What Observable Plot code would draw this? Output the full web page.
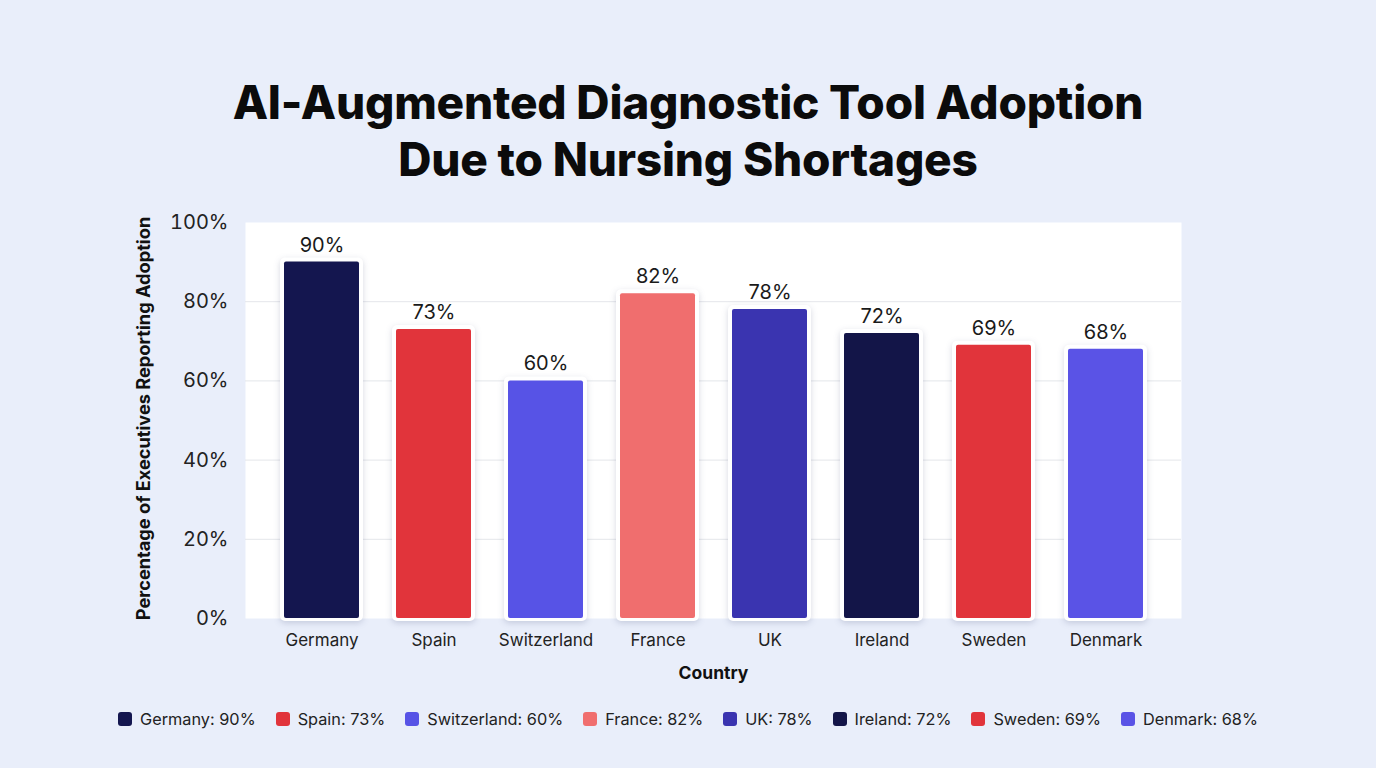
<!DOCTYPE html>
<html>
<head>
<meta charset="utf-8">
<script src="https://cdn.jsdelivr.net/npm/d3@7"></script>
<script src="https://cdn.jsdelivr.net/npm/@observablehq/plot@0.6"></script>
<style>
  html, body { margin: 0; padding: 0; }
  body {
    width: 1376px; height: 768px; overflow: hidden; position: relative;
    background: #e9eefa;
    font-family: Inter, "Noto Sans", sans-serif;
    color: #111;
  }
  #title {
    position: absolute; left: 0; top: 74px; width: 1376px;
    text-align: center; font-size: 46px; font-weight: 800; line-height: 57px;
    letter-spacing: -0.2px; color: #0b0b0b;
  }
  #chart { position: absolute; left: 0; top: 200px; }
  #legend {
    position: absolute; left: 0; top: 707px; width: 1376px;
    display: flex; justify-content: center; gap: 20px;
    font-size: 16.3px; color: #222;
  }
  .item { display: flex; align-items: center; gap: 8px; height: 24px; }
  .sw { width: 14px; height: 14px; border-radius: 3px; }
</style>
</head>
<body>
<div id="title">AI-Augmented Diagnostic Tool Adoption<br>Due to Nursing Shortages</div>
<div id="chart"></div>
<div id="legend"></div>
<script>
const countries = ["Germany", "Spain", "Switzerland", "France", "UK", "Ireland", "Sweden", "Denmark"];
const values = [90, 73, 60, 82, 78, 72, 69, 68];
const colors = ["#14164f", "#e1343b", "#5753e6", "#f06e6e", "#3a34b0", "#131548", "#e1343b", "#5a53e6"];
const yTicks = [0, 20, 40, 60, 80, 100];
const gridTicks = [20, 40, 60, 80];
const yLabel = "Percentage of Executives Reporting Adoption";
const xLabel = "Country";

const data = countries.map((c, i) => ({country: c, value: values[i], color: colors[i]}));

const plot = Plot.plot({
  width: 1376,
  height: 490,
  marginLeft: 245,
  marginRight: 195,
  marginTop: 22,
  marginBottom: 72,
  style: {fontFamily: "Inter, 'Noto Sans', sans-serif", background: "transparent", color: "#222", overflow: "visible"},
  x: {domain: countries, padding: 0.333, label: null},
  y: {domain: [0, 100], label: null},
  color: {type: "identity"},
  marks: [
    Plot.frame({fill: "white", stroke: null}),
    Plot.gridY(gridTicks, {stroke: "#e4e6ea", strokeOpacity: 1, strokeWidth: 1}),
    Plot.barY(data, {x: "country", y: "value", fill: "white", rx: 5,
      insetLeft: -4, insetRight: -4, insetTop: -4, insetBottom: -3}),
    Plot.barY(data, {x: "country", y: "value", fill: "color", rx: 2}),
    Plot.text(data, {x: "country", y: "value", text: d => d.value + "%", dy: -17,
      fontSize: 20, fill: "#1a1a1a"}),
    Plot.axisY({ticks: yTicks, tickFormat: d => d + "%", tickSize: 0, tickPadding: 17,
      fontSize: 20, label: null, fill: "#222"}),
    Plot.axisX({tickSize: 0, tickPadding: 15, fontSize: 17, label: null, fill: "#222"}),
    Plot.text([yLabel], {frameAnchor: "left", textAnchor: "middle", rotate: -90, dx: -101, dy: -2,
      fontSize: 18.2, fontWeight: 700, fill: "#111"}),
    Plot.text([xLabel], {frameAnchor: "bottom", dy: 60, fontSize: 17.5,
      fontWeight: 700, fill: "#111"})
  ]
});
document.getElementById("chart").appendChild(plot);

// soft shadow behind the white bar outlines
const bars = d3.select(plot).selectAll("g[aria-label='bar']");
bars.filter((d, i) => i === 0).selectAll("rect")
  .style("filter", "drop-shadow(0px 2px 3px rgba(30,40,90,0.18))");

const legend = d3.select("#legend");
data.forEach(d => {
  const it = legend.append("div").attr("class", "item");
  it.append("div").attr("class", "sw").style("background", d.color);
  it.append("span").text(`${d.country}: ${d.value}%`);
});
</script>
</body>
</html>
